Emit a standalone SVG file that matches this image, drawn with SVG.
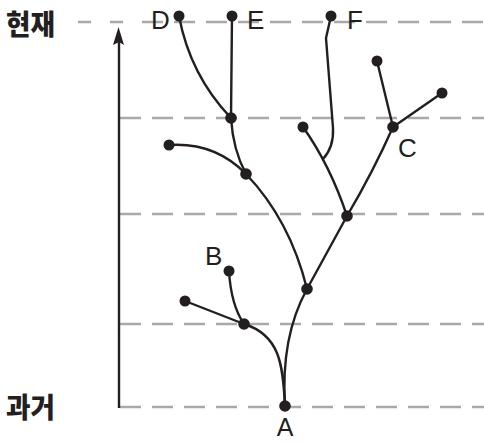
<svg xmlns="http://www.w3.org/2000/svg" width="484" height="442" viewBox="0 0 484 442">
<style>
.grid{stroke:#a7a9ac;stroke-width:2.6;fill:none}
.edge{stroke:#231f20;stroke-width:2.4;fill:none;stroke-linecap:round}
.node{fill:#231f20}
.lbl{font-family:"Liberation Sans",Arial,sans-serif;font-size:26px;fill:#231f20}
.kr{font-family:"Noto Sans CJK KR",sans-serif;font-size:28px;font-weight:900;fill:#231f20}
</style>
<rect width="484" height="442" fill="#ffffff"/>
<g id="grid">
<line class="grid" x1="78" y1="22" x2="123" y2="22" stroke-dasharray="13 19"/>
<line class="grid" x1="142" y1="22" x2="484" y2="22" stroke-dasharray="21 11"/>
<line class="grid" x1="120" y1="118" x2="484" y2="118" stroke-dasharray="21 11"/>
<line class="grid" x1="120" y1="214" x2="484" y2="214" stroke-dasharray="21 11"/>
<line class="grid" x1="120" y1="324" x2="484" y2="324" stroke-dasharray="21 11"/>
<line class="grid" x1="120" y1="407" x2="484" y2="407" stroke-dasharray="21 11"/>
</g>
<g id="axis">
<line x1="119" y1="408" x2="119" y2="40" stroke="#231f20" stroke-width="2.4"/>
<path d="M118.5,27 L113,45 L119,42 L124,45 Z" fill="#231f20"/>
<text class="kr" x="6" y="35" textLength="49" lengthAdjust="spacingAndGlyphs">현재</text>
<text class="kr" x="6" y="418" textLength="49" lengthAdjust="spacingAndGlyphs">과거</text>
</g>
<g id="connectors">
<path class="edge" d="M285,406 C283,365 280,335 244,324"/>
<path class="edge" d="M285,406 C282,360 290,320 307,289"/>
<path class="edge" d="M244,324 L185,301"/>
<path class="edge" d="M229,271 Q231,305 244,324"/>
<path class="edge" d="M307,289 L347,216"/>
<path class="edge" d="M246,174 Q290,220 307,289"/>
<path class="edge" d="M169,145 Q215,142 246,174"/>
<path class="edge" d="M231,118 Q233,150 246,174"/>
<path class="edge" d="M231,118 L232,16"/>
<path class="edge" d="M179,16 Q190,75 231,118"/>
<path class="edge" d="M303,127 Q330,165 347,216"/>
<path class="edge" d="M331,16 L326,38 L333,128 Q334,147 323,159"/>
<path class="edge" d="M347,216 Q373,172 393,127"/>
<path class="edge" d="M393,127 L377,61"/>
<path class="edge" d="M393,127 L442,93"/>
</g>
<g id="A"><circle class="node" cx="285" cy="406" r="5.8"/><text class="lbl" x="285" y="436" text-anchor="middle" style="font-size:25px">A</text></g>
<g id="n1"><circle class="node" cx="244" cy="324" r="5.8"/></g>
<g id="n2"><circle class="node" cx="185" cy="301" r="5.5"/></g>
<g id="B"><circle class="node" cx="229" cy="271" r="5.5"/><text class="lbl" x="205" y="265">B</text></g>
<g id="n3"><circle class="node" cx="307" cy="289" r="5.8"/></g>
<g id="n4"><circle class="node" cx="347" cy="216" r="5.8"/></g>
<g id="n5"><circle class="node" cx="246" cy="174" r="5.8"/></g>
<g id="n6"><circle class="node" cx="169" cy="145" r="5.5"/></g>
<g id="n7"><circle class="node" cx="231" cy="118" r="5.8"/></g>
<g id="n8"><circle class="node" cx="303" cy="127" r="5.5"/></g>
<g id="C"><circle class="node" cx="393" cy="127" r="5.8"/><text class="lbl" x="398" y="157">C</text></g>
<g id="n9"><circle class="node" cx="377" cy="61" r="5.5"/></g>
<g id="n10"><circle class="node" cx="442" cy="93" r="5.5"/></g>
<g id="D"><circle class="node" cx="179" cy="16" r="5.5"/><text class="lbl" x="151" y="29">D</text></g>
<g id="E"><circle class="node" cx="232" cy="16" r="5.5"/><text class="lbl" x="247" y="29">E</text></g>
<g id="F"><circle class="node" cx="331" cy="16" r="5.5"/><text class="lbl" x="347" y="29">F</text></g>
</svg>
